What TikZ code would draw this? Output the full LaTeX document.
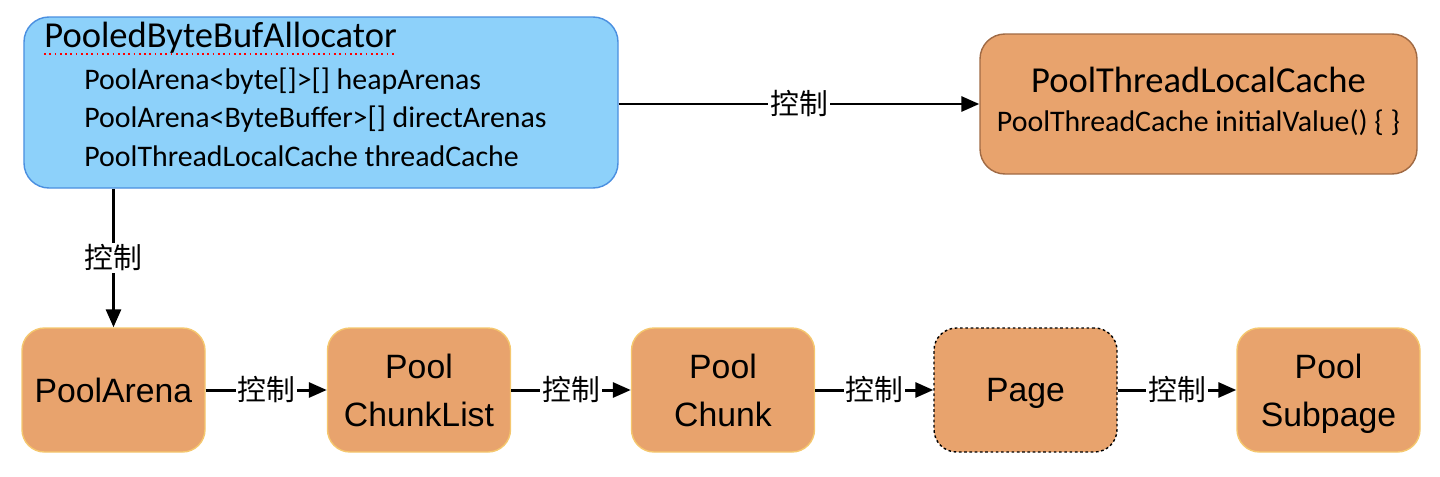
\documentclass[tikz,border=0pt]{standalone}
\usepackage{fontspec}
\setmainfont{Carlito}
\newfontfamily\arialfont{Liberation Sans}
\newfontfamily\cjk{Noto Sans CJK SC}
\usetikzlibrary{arrows.meta,positioning}
\definecolor{skyfill}{HTML}{8DD1FA}
\definecolor{skyline}{HTML}{4A8FE0}
\definecolor{orangefill}{HTML}{E8A36D}
\definecolor{orangeline}{HTML}{A06A44}
\definecolor{goldline}{HTML}{F5C76E}
\tikzset{
  classbox/.style={rectangle, rounded corners=0.5cm, fill=skyfill, draw=skyline,
    line width=0.8pt, minimum width=11.88cm, minimum height=3.42cm},
  cachebox/.style={rectangle, rounded corners=0.5cm, fill=orangefill, draw=orangeline,
    line width=0.8pt, minimum width=8.74cm, minimum height=2.8cm},
  poolbox/.style={rectangle, rounded corners=0.45cm, fill=orangefill, draw=goldline,
    line width=0.8pt, minimum width=3.66cm, minimum height=2.48cm, align=center,
    text depth=0pt, font=\arialfont\fontsize{19.2}{27.5}\selectfont},
  ctrl/.style={-{Triangle[length=0.36cm,width=0.3cm]}, line width=1.7pt},
  ctrllabel/.style={fill=white, inner sep=1pt, font=\cjk\fontsize{16.4}{18}\selectfont}
}
\begin{document}
\begin{tikzpicture}
      \useasboundingbox (0,0) rectangle (28.8,-9.52);
      % top row
      \node[classbox] (alloc) at (6.42,-2.05) {};
      \node[anchor=base west, inner sep=0pt, font=\fontsize{20.8}{24}\selectfont] (allocname) at (0.88,-0.95) {PooledByteBufAllocator};
      \draw[red, dotted, line width=1pt] (allocname.south west) -- (allocname.south east);
      \node[anchor=base west, inner sep=0pt, font=\fontsize{17}{20}\selectfont] (heap) at (1.68,-1.78) {PoolArena<byte[]>[] heapArenas};
      \node[anchor=base west, inner sep=0pt, font=\fontsize{17}{20}\selectfont] (direct) at (1.68,-2.55) {PoolArena<ByteBuffer>[] directArenas};
      \node[anchor=base west, inner sep=0pt, font=\fontsize{17}{20}\selectfont] (tcache) at (1.68,-3.33) {PoolThreadLocalCache threadCache};
      \node[cachebox] (cache) at (23.97,-2.08) {};
      \node[font=\fontsize{20.8}{24}\selectfont] (cachename) at (23.97,-1.6) {PoolThreadLocalCache};
      \node[font=\fontsize{17}{20}\selectfont] (initval) at (23.97,-2.46) {PoolThreadCache initialValue() \{ \}};
      % bottom row
      \node[poolbox] (arena) at (2.27,-7.8) {PoolArena};
      \node[poolbox] (chunklist) at (8.38,-7.8) {Pool\\ChunkList};
      \node[poolbox] (chunk) at (14.46,-7.8) {Pool\\Chunk};
      \node[poolbox, draw=black, dash pattern=on 1.5pt off 1.5pt] (page) at (20.51,-7.8) {Page};
      \node[poolbox] (subpage) at (26.57,-7.8) {Pool\\Subpage};
      % connectors
      \draw[ctrl] (alloc.east |- cache.west) -- (cache.west) node[midway, ctrllabel]{控制};
      \draw[ctrl] (alloc.south -| arena.north) -- (arena.north) node[midway, ctrllabel]{控制};
      \draw[ctrl] (arena) -- (chunklist) node[midway, ctrllabel]{控制};
      \draw[ctrl] (chunklist) -- (chunk) node[midway, ctrllabel]{控制};
      \draw[ctrl] (chunk) -- (page) node[midway, ctrllabel]{控制};
      \draw[ctrl] (page) -- (subpage) node[midway, ctrllabel]{控制};
    \end{tikzpicture}
\end{document}
